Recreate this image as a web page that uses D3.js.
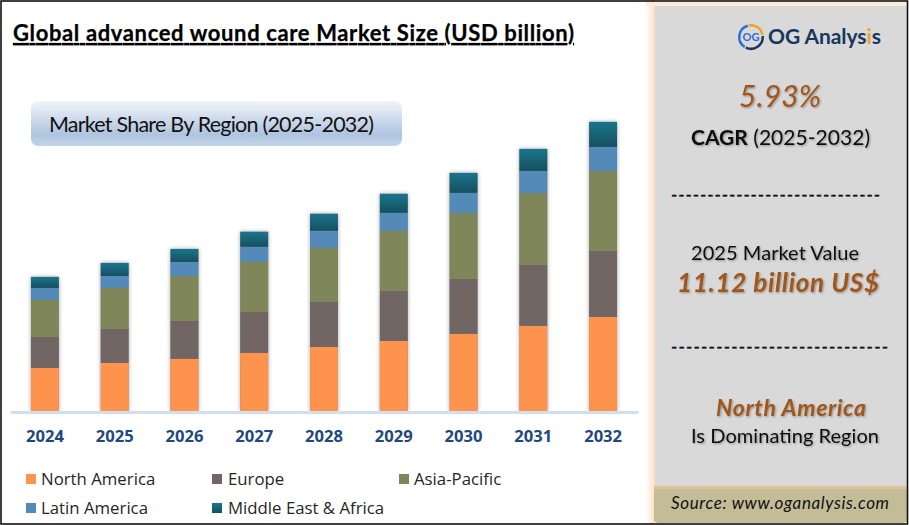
<!DOCTYPE html>
<html>
<head>
<title>Global advanced wound care Market Size</title>
<script src="https://cdn.jsdelivr.net/npm/d3@7"></script>
<style>
  html, body { margin: 0; padding: 0; background: #fff; }
  svg { display: block; }
  text { font-family: Lato, sans-serif; fill: #111; }
  .brown { fill: #a0561a; }
  .dashes { stroke: #111; stroke-width: 0.35; }
</style>
</head>
<body>
<svg id="chart" width="909" height="525"></svg>
<script>
var years = ['2024', '2025', '2026', '2027', '2028', '2029', '2030', '2031', '2032'];
var regions = ['North America', 'Europe', 'Asia-Pacific', 'Latin America', 'Middle East & Africa'];

// USD billion (2025 adds up to 11.12)
var northAmerica = [3.23, 3.61, 3.91, 4.36, 4.81, 5.26, 5.79, 6.39, 7.06];
var europe = [2.33, 2.55, 2.85, 3.08, 3.38, 3.76, 4.13, 4.58, 4.96];
var asiaPacific = [2.78, 3.09, 3.38, 3.76, 4.06, 4.51, 4.96, 5.41, 6.01];
var latinAmerica = [0.90, 0.89, 1.05, 1.13, 1.28, 1.35, 1.50, 1.65, 1.80];
var middleEastAfrica = [0.83, 0.98, 0.98, 1.13, 1.28, 1.43, 1.50, 1.65, 1.88];

var colors = ['#fd934c', '#716664', '#7f8659', '#538ab8', 'url(#teal)'];

var svg = d3.select('#chart');
var defs = svg.append('defs');

function gradient(id, stops) {
  var g = defs.append('linearGradient').attr('id', id).attr('x1', 0).attr('y1', 0).attr('x2', 0).attr('y2', 1);
  stops.forEach(function(s) { g.append('stop').attr('offset', s[0]).attr('stop-color', s[1]); });
}
gradient('teal', [[0, '#1b758c'], [1, '#14505f']]);
gradient('pill', [[0, '#f1f4f9'], [0.75, '#afc4df'], [1, '#c4d4e8']]);

var peach = defs.append('linearGradient').attr('id', 'peach');
peach.append('stop').attr('offset', 0).attr('stop-color', '#ffffff');
peach.append('stop').attr('offset', 1).attr('stop-color', '#fddcc0');

function shadow(id, dx, dy, blur, op) {
  defs.append('filter').attr('id', id).attr('x', '-20%').attr('y', '-20%').attr('width', '140%').attr('height', '140%')
    .append('feDropShadow').attr('dx', dx).attr('dy', dy).attr('stdDeviation', blur)
    .attr('flood-color', '#000').attr('flood-opacity', op);
}
shadow('barShadow', 0, 0, 2, 0.35);
shadow('textShadow', 1, 1, 0.8, 0.35);

// frame and right panel
svg.append('rect').attr('x', 646).attr('y', 0).attr('width', 9).attr('height', 525).attr('fill', 'url(#peach)');
svg.append('rect').attr('x', 646).attr('y', 2).attr('width', 261).attr('height', 4).attr('fill', '#fdeadb');
svg.append('rect').attr('x', 655).attr('y', 6).attr('width', 252).attr('height', 482).attr('fill', '#d9d9d9');
svg.append('rect').attr('x', 654).attr('y', 487).attr('width', 253).attr('height', 36).attr('rx', 4).attr('fill', '#c4bc96');
svg.append('rect').attr('x', 654).attr('y', 486).attr('width', 253).attr('height', 3).attr('fill', '#dfc29a');
svg.append('rect').attr('x', 1).attr('y', 1).attr('width', 906.5).attr('height', 523)
  .attr('fill', 'none').attr('stroke', '#111').attr('stroke-width', 1.6);

// title
svg.append('text').attr('x', 13).attr('y', 41).attr('font-size', 22).attr('font-weight', 700)
  .attr('text-decoration', 'underline').attr('textLength', 561).attr('stroke', '#000').attr('stroke-width', 0.25)
  .style('fill', '#000').text('Global advanced wound care Market Size (USD billion)');

// pill
svg.append('rect').attr('x', 31).attr('y', 101).attr('width', 371).attr('height', 45).attr('rx', 7).attr('fill', 'url(#pill)');
svg.append('text').attr('x', 49).attr('y', 132).attr('font-size', 21.5).attr('textLength', 325)
  .text('Market Share By Region (2025-2032)');

// stacked bars
var table = years.map(function(y, i) {
  return { year: y, 'North America': northAmerica[i], 'Europe': europe[i], 'Asia-Pacific': asiaPacific[i],
    'Latin America': latinAmerica[i], 'Middle East & Africa': middleEastAfrica[i] };
});
var series = d3.stack().keys(regions)(table);

var x = d3.scaleBand().domain(years).range([10, 638]).paddingInner(0.6).paddingOuter(0.3);
var y = d3.scaleLinear().domain([0, 22]).range([411, 118]);

var layers = svg.append('g');
layers.selectAll('.shadow').data(years).enter().append('rect')
  .attr('x', function(d) { return x(d); })
  .attr('width', x.bandwidth())
  .attr('y', function(d, i) { return y(series[4][i][1]); })
  .attr('height', function(d, i) { return y(0) - y(series[4][i][1]); })
  .attr('fill', '#888').attr('filter', 'url(#barShadow)');

layers.selectAll('.layer').data(series).enter().append('g')
  .attr('fill', function(d, i) { return colors[i]; })
  .selectAll('rect').data(function(d) { return d; }).enter().append('rect')
  .attr('x', function(d) { return x(d.data.year); })
  .attr('width', x.bandwidth())
  .attr('y', function(d) { return y(d[1]); })
  .attr('height', function(d) { return y(d[0]) - y(d[1]); });

// category axis
var axis = svg.append('g').attr('transform', 'translate(0,412)').call(d3.axisBottom(x).tickSize(0).tickPadding(18.5));
axis.select('.domain').attr('stroke', '#d0deef').attr('stroke-width', 3);
axis.selectAll('text').attr('font-size', 16.6).attr('font-weight', 700)
  .style('font-family', '"Open Sans", sans-serif').style('fill', '#1f497d');

// legend
var legendX = [26, 212, 399, 26, 212];
var legendY = [474, 474, 474, 503, 503];
var legend = svg.append('g').selectAll('g').data(regions).enter().append('g')
  .attr('transform', function(d, i) { return 'translate(' + legendX[i] + ',' + legendY[i] + ')'; });
legend.append('rect').attr('width', 10).attr('height', 10).attr('fill', function(d, i) { return colors[i]; });
legend.append('text').attr('x', function(d, i) { return i == 1 || i == 4 ? 16 : 15; }).attr('y', 11).attr('font-size', 16.8)
  .style('font-family', '"Open Sans", sans-serif').style('fill', '#262626').text(function(d) { return d; });

// logo
var logo = svg.append('g').attr('transform', 'translate(751,37)');
var arc = d3.arc().innerRadius(10.5).outerRadius(13);
logo.append('path').attr('d', arc({ startAngle: -0.2, endAngle: 1.4 })).attr('fill', '#f0a22e');
logo.append('path').attr('d', arc({ startAngle: 1.5, endAngle: 3.6 })).attr('fill', '#17375e');
logo.append('path').attr('d', arc({ startAngle: 3.7, endAngle: 6.0 })).attr('fill', '#2f6fd0');
logo.append('text').attr('text-anchor', 'middle').attr('y', 4).attr('font-size', 11).attr('font-weight', 700)
  .style('fill', '#2f6fd0').text('OG');
var brand = svg.append('text').attr('x', 768).attr('y', 44).attr('font-size', 21).attr('font-weight', 700)
  .attr('textLength', 113).style('fill', '#17375e');
brand.append('tspan').text('OG Analys');
brand.append('tspan').style('fill', '#f0a22e').text('i');
brand.append('tspan').text('s');

// panel text
var sh = 'url(#textShadow)';
svg.append('text').attr('class', 'brown').attr('x', 739).attr('y', 107).attr('font-size', 30).attr('font-style', 'italic')
  .attr('textLength', 82).attr('filter', sh).text('5.93%');
var cagr = svg.append('text').attr('x', 691).attr('y', 145).attr('font-size', 21).attr('textLength', 179).attr('filter', sh);
cagr.append('tspan').attr('font-weight', 700).text('CAGR');
cagr.append('tspan').text(' (2025-2032)');
svg.append('text').attr('class', 'dashes').attr('x', 671).attr('y', 201).attr('font-size', 17).attr('textLength', 209).text('-----------------------------');
svg.append('text').attr('x', 691).attr('y', 260).attr('font-size', 20).attr('textLength', 168).attr('filter', sh).text('2025 Market Value');
svg.append('text').attr('class', 'brown').attr('x', 677).attr('y', 292).attr('font-size', 26).attr('font-weight', 700).attr('font-style', 'italic')
  .attr('textLength', 202).attr('filter', sh).text('11.12 billion  US$');
svg.append('text').attr('class', 'dashes').attr('x', 671).attr('y', 353).attr('font-size', 17).attr('textLength', 217).text('-----------------------------');
svg.append('text').attr('class', 'brown').attr('x', 716).attr('y', 416).attr('font-size', 23).attr('font-weight', 700).attr('font-style', 'italic')
  .attr('textLength', 150).attr('filter', sh).text('North America');
svg.append('text').attr('x', 691).attr('y', 443).attr('font-size', 20).attr('textLength', 188).attr('filter', sh).text('Is Dominating Region');
svg.append('text').attr('x', 671).attr('y', 509).attr('font-size', 17).attr('font-style', 'italic')
  .attr('textLength', 218).text('Source: www.oganalysis.com');
</script>
</body>
</html>
